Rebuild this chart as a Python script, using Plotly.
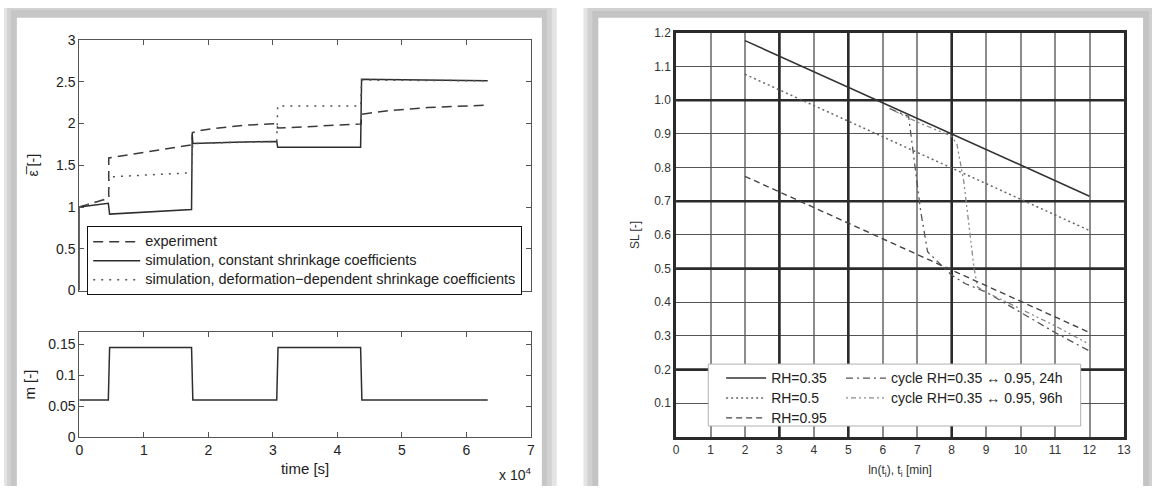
import plotly.graph_objects as go

# ---------------- left panel data ----------------
T_EXP = [0, 4560, 4570, 17500, 17520, 19000, 22000, 26000, 30700, 30720, 35000, 40000, 43700, 43720, 48000, 54000, 59000, 63300]
EPS_EXP = [1.0, 1.105, 1.587, 1.745, 1.89, 1.92, 1.95, 1.98, 2.0, 1.945, 1.96, 1.98, 1.995, 2.11, 2.155, 2.19, 2.21, 2.22]

T_SIM_C = [0, 0, 4500, 4700, 17400, 17500, 17600, 24000, 30600, 30750, 43600, 43750, 63300]
EPS_SIM_C = [0.0, 1.0, 1.045, 0.915, 0.97, 1.87, 1.76, 1.775, 1.785, 1.715, 1.715, 2.53, 2.51]

T_SIM_D = [0, 4560, 4600, 17400, 17600, 24000, 30600, 30750, 43600, 43750, 63300]
EPS_SIM_D = [1.0, 1.105, 1.36, 1.41, 1.76, 1.775, 1.785, 2.21, 2.21, 2.52, 2.51]

T_M = [0, 4500, 4700, 17400, 17600, 30600, 30800, 43600, 43800, 63300]
M_VAL = [0.06, 0.06, 0.145, 0.145, 0.06, 0.06, 0.145, 0.145, 0.06, 0.06]

TIME_TICKS = [0, 10000, 20000, 30000, 40000, 50000, 60000, 70000]
TIME_TICK_TEXT = ["0", "1", "2", "3", "4", "5", "6", "7"]
EPS_TICKS = [0, 0.5, 1, 1.5, 2, 2.5, 3]
EPS_TICK_TEXT = ["0", "0.5", "1", "1.5", "2", "2.5", "3"]
M_TICKS = [0, 0.05, 0.1, 0.15]
M_TICK_TEXT = ["0", "0.05", "0.1", "0.15"]

# ---------------- right panel data ----------------
LN_T_RH = [2, 12]
SL_RH035 = [1.177, 0.715]
SL_RH05 = [1.077, 0.613]
SL_RH095 = [0.774, 0.31]

LN_T_C24 = [6.2, 6.75, 7.1, 7.3, 8.0, 8.4, 9.0, 10.0, 11.0, 12.0]
SL_C24 = [0.975, 0.952, 0.67, 0.55, 0.48, 0.455, 0.43, 0.37, 0.31, 0.255]

LN_T_C96 = [6.2, 7.0, 8.0, 8.15, 8.35, 8.5, 8.65, 8.75, 9.0, 10.0, 11.0, 12.0]
SL_C96 = [0.975, 0.935, 0.893, 0.87, 0.76, 0.62, 0.5, 0.445, 0.43, 0.38, 0.33, 0.275]

X_TICKS_R = list(range(0, 14))
Y_TICKS_R = [0.1, 0.2, 0.3, 0.4, 0.5, 0.6, 0.7, 0.8, 0.9, 1.0, 1.1, 1.2]
X_RANGE_R = [0, 13]
Y_RANGE_R = [0, 1.2]
THICK_X = [3, 5, 8]
THICK_Y = [0.2, 0.5, 0.7, 1.0]

FONT = "Liberation Sans, Arial, sans-serif"
W, H = 1159, 494


def big(name, size):
    return '<span style="font-size:%gpx">%s</span>' % (size, name)


fig = go.Figure()

# left top
fig.add_trace(go.Scatter(x=T_EXP, y=EPS_EXP, mode="lines", name=big("experiment", 14.5),
                         line=dict(color="#3a3a3a", width=1.5, dash="10px,6px"),
                         xaxis="x", yaxis="y", legend="legend"))
fig.add_trace(go.Scatter(x=T_SIM_C, y=EPS_SIM_C, mode="lines",
                         name=big("simulation, constant shrinkage coefficients", 14.5),
                         line=dict(color="#2e2e2e", width=1.5),
                         xaxis="x", yaxis="y", legend="legend"))
fig.add_trace(go.Scatter(x=T_SIM_D, y=EPS_SIM_D, mode="lines",
                         name=big("simulation, deformation\u2212dependent shrinkage coefficients", 14.5),
                         line=dict(color="#555555", width=1.5, dash="2px,6px"),
                         xaxis="x", yaxis="y", legend="legend"))
# left bottom
fig.add_trace(go.Scatter(x=T_M, y=M_VAL, mode="lines", showlegend=False,
                         line=dict(color="#2e2e2e", width=1.5),
                         xaxis="x2", yaxis="y2"))

# right: heavy grid lines (drawn first, under data)
for xv in THICK_X:
    fig.add_trace(go.Scatter(x=[xv, xv], y=Y_RANGE_R, mode="lines", showlegend=False,
                             hoverinfo="skip", line=dict(color="#2a2a2a", width=2.6),
                             xaxis="x3", yaxis="y3"))
for yv in THICK_Y:
    fig.add_trace(go.Scatter(x=X_RANGE_R, y=[yv, yv], mode="lines", showlegend=False,
                             hoverinfo="skip", line=dict(color="#2a2a2a", width=2.6),
                             xaxis="x3", yaxis="y3"))

fig.add_trace(go.Scatter(x=LN_T_C24, y=SL_C24, mode="lines",
                         name=big("cycle RH=0.35 \u2194 0.95, 24h", 14),
                         line=dict(color="#555555", width=1.3, dash="7px,4px,2px,4px"),
                         xaxis="x3", yaxis="y3", legend="legend3"))
fig.add_trace(go.Scatter(x=LN_T_C96, y=SL_C96, mode="lines",
                         name=big("cycle RH=0.35 \u2194 0.95, 96h", 14),
                         line=dict(color="#8a8a8a", width=1.3, dash="2px,3px,5px,3px,2px,3px"),
                         xaxis="x3", yaxis="y3", legend="legend3"))
fig.add_trace(go.Scatter(x=LN_T_RH, y=SL_RH035, mode="lines", name=big("RH=0.35", 14),
                         line=dict(color="#333333", width=1.6),
                         xaxis="x3", yaxis="y3", legend="legend2"))
fig.add_trace(go.Scatter(x=LN_T_RH, y=SL_RH05, mode="lines", name=big("RH=0.5", 14),
                         line=dict(color="#666666", width=1.5, dash="2px,3px"),
                         xaxis="x3", yaxis="y3", legend="legend2"))
fig.add_trace(go.Scatter(x=LN_T_RH, y=SL_RH095, mode="lines", name=big("RH=0.95", 14),
                         line=dict(color="#444444", width=1.4, dash="6px,4px"),
                         xaxis="x3", yaxis="y3", legend="legend2"))

# background frames
shapes = []


def rect(x0, y0, x1, y1, color, line=None, layer="below"):
    return dict(type="rect", xref="paper", yref="paper",
                x0=x0 / W, x1=x1 / W, y0=1 - y1 / H, y1=1 - y0 / H,
                fillcolor=color, line=line or dict(width=0), layer=layer)


shapes += [
    rect(0, 0, 558, 494, "#e4e4e4"),
    rect(3, 0, 553, 494, "#d2d2d2"),
    rect(7, 2, 548, 494, "#c6c6c6"),
    rect(13, 10, 543, 494, "#ffffff"),
    rect(585, 0, 1159, 494, "#e4e4e4"),
    rect(589, 0, 1159, 494, "#d0d0d0"),
    rect(594, 3, 1156, 494, "#c4c4c4"),
    rect(600, 10, 1150, 494, "#ffffff"),
]
# right legend box
shapes.append(rect(711, 368, 1087, 432, "#ffffff", line=dict(color="#b0b0b0", width=1), layer="above"))

left_axis_common = dict(showline=True, linecolor="#555555", linewidth=1, mirror="ticks",
                        ticks="inside", ticklen=5, tickcolor="#555555", showgrid=False,
                        zeroline=False, tickfont=dict(family=FONT, size=14, color="#222222"))

fig.update_layout(
    width=W, height=H, margin=dict(l=0, r=0, t=0, b=0),
    paper_bgcolor="#ffffff", plot_bgcolor="rgba(0,0,0,0)",
    font=dict(family=FONT, color="#222222"),
    shapes=shapes,
    xaxis=dict(domain=[76 / W, 532 / W], range=[0, 70000], anchor="y",
               tickvals=TIME_TICKS, ticktext=TIME_TICK_TEXT, showticklabels=False,
               **left_axis_common),
    yaxis=dict(domain=[1 - 292 / H, 1 - 33 / H], range=[0, 3], anchor="x",
               tickvals=EPS_TICKS, ticktext=EPS_TICK_TEXT,
               title=dict(text="\u03b5\u0305 [-]", font=dict(family=FONT, size=14), standoff=14),
               **left_axis_common),
    xaxis2=dict(domain=[76 / W, 532 / W], range=[0, 70000], anchor="y2",
                tickvals=TIME_TICKS, ticktext=TIME_TICK_TEXT,
                title=dict(text="time [s]", font=dict(family=FONT, size=15), standoff=6),
                **left_axis_common),
    yaxis2=dict(domain=[1 - 443.3 / H, 1 - 335 / H], range=[0, 0.17], anchor="x2",
                tickvals=M_TICKS, ticktext=M_TICK_TEXT,
                title=dict(text="m [-]", font=dict(family=FONT, size=15), standoff=8),
                **left_axis_common),
    xaxis3=dict(domain=[678.5 / W, 1130.7 / W], range=X_RANGE_R, anchor="y3",
                tickvals=X_TICKS_R, ticktext=[str(v) for v in X_TICKS_R],
                showline=True, linecolor="#2a2a2a", linewidth=2.6, mirror=True,
                showgrid=True, gridcolor="#8c8c8c", gridwidth=1.5, zeroline=False,
                ticks="", tickfont=dict(family=FONT, size=12, color="#333333"),
                title=dict(text="ln(t<sub>i</sub>), t<sub>i</sub> [min]",
                           font=dict(family=FONT, size=12, color="#333333"), standoff=10)),
    yaxis3=dict(domain=[1 - 443.3 / H, 1 - 25.7 / H], range=Y_RANGE_R, anchor="x3",
                tickvals=Y_TICKS_R, ticktext=["%.1f" % v for v in Y_TICKS_R],
                showline=True, linecolor="#2a2a2a", linewidth=2.6, mirror=True,
                showgrid=True, gridcolor="#555555", gridwidth=1.2, zeroline=False,
                ticks="", tickfont=dict(family=FONT, size=12, color="#333333"),
                title=dict(text="SL [-]", font=dict(family=FONT, size=12, color="#333333"),
                           standoff=12)),
    legend=dict(x=84 / W, y=1 - 225.6 / H, xanchor="left", yanchor="top",
                bgcolor="#ffffff", bordercolor="#111111", borderwidth=1,
                font=dict(family=FONT, size=12, color="#222222"),
                itemwidth=47, tracegroupgap=0),
    legend2=dict(x=724 / W, y=1 - 367 / H, xanchor="left", yanchor="top",
                 bgcolor="rgba(0,0,0,0)", borderwidth=0,
                 font=dict(family=FONT, size=13, color="#222222"), itemwidth=40),
    legend3=dict(x=845 / W, y=1 - 367 / H, xanchor="left", yanchor="top",
                 bgcolor="rgba(0,0,0,0)", borderwidth=0,
                 font=dict(family=FONT, size=13, color="#222222"), itemwidth=40),
    annotations=[dict(text="x 10<sup>4</sup>", xref="paper", yref="paper",
                      x=534 / W, y=1 - 470 / H, xanchor="right", yanchor="top",
                      showarrow=False, font=dict(family=FONT, size=14, color="#222222"))],
)

fig.write_html("out.html", config={"displayModeBar": False},
               post_script="document.body.style.margin='0px';document.body.style.overflow='hidden';")
